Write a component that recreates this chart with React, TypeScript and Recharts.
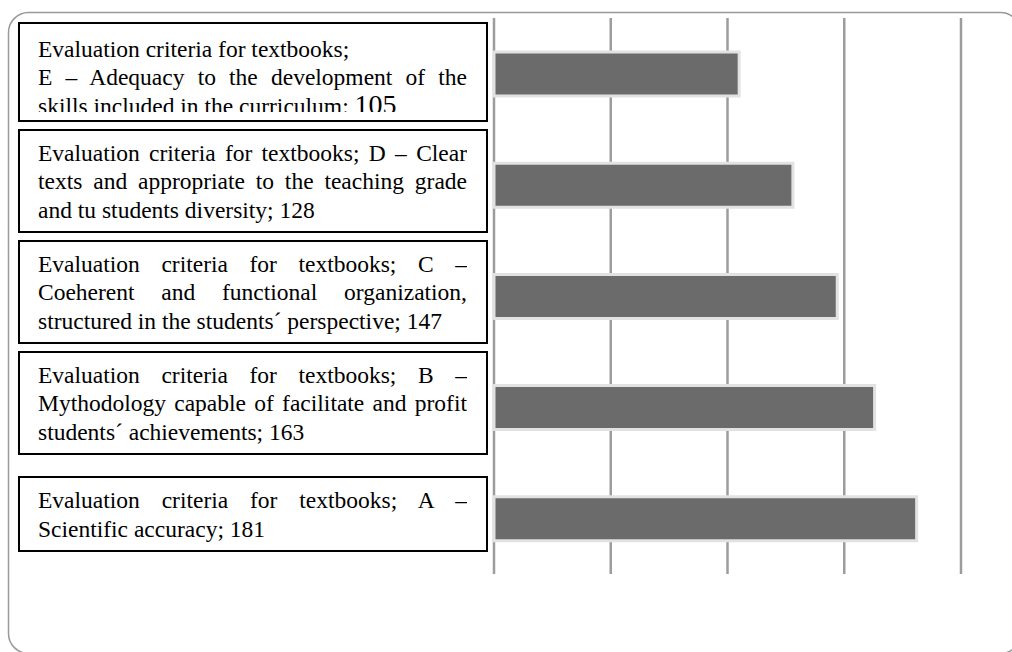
import { BarChart, Bar, XAxis, YAxis, CartesianGrid } from 'recharts';

// Criteria A..E, drawn bottom (A) to top (E)
const criteria = ['A', 'B', 'C', 'D', 'E'];
const descriptions = [
  'Scientific accuracy;',
  'Mythodology capable of facilitate and profit students\u00b4 achievements;',
  'Coeherent and functional organization, structured in the students\u00b4 perspective;',
  'Clear texts and appropriate to the teaching grade and tu students diversity;',
  'Adequacy to the development of the skills included in the curriculum:',
];
const counts = [181, 163, 147, 128, 105];
const xTicks = [0, 50, 100, 150, 200];

const prefix = 'Evaluation criteria for textbooks;';

const data = criteria.map((c, i) => ({ name: c, desc: descriptions[i], value: counts[i] }));

const W = 1012;
const H = 652;
const serif = '"Liberation Serif", "Times New Roman", serif';

const LabelBox = ({ y, payload }: any) => {
  const i = criteria.indexOf(payload.value);
  const d = data[i];
  // the E box is cut off at the bottom in the original
  const clipped = d.name === 'E';
  const fo = 140;
  return (
    <foreignObject x={18} y={y - fo / 2 - (clipped ? 2 : 4)} width={470} height={fo}>
      <div style={{ height: fo, display: 'flex', alignItems: 'center' }}>
        <div
          style={{
            boxSizing: 'border-box',
            width: 470,
            border: '2px solid #000',
            padding: clipped ? '11px 19px 8px 18px' : '8px 19px 7px 18px',
            background: '#fff',
          }}
        >
          <div
            style={{
              height: clipped ? 77 : undefined,
              overflow: 'hidden',
              textAlign: 'justify',
              fontFamily: serif,
              fontSize: 23.5,
              lineHeight: '28.5px',
              color: '#000',
            }}
          >
            {prefix}
            {clipped ? <br /> : ' '}
            {d.name} {'\u2013'} {d.desc}{' '}
            <span style={{ fontSize: clipped ? 28 : 23.5, lineHeight: '20px' }}>{d.value}</span>
          </div>
        </div>
      </div>
    </foreignObject>
  );
};

export default function App() {
  return (
    <div style={{ position: 'absolute', left: 0, top: 0, width: W, height: H, background: '#fff' }}>
      {/* rounded outer frame */}
      <svg width={W} height={H} style={{ position: 'absolute', left: 0, top: 0 }}>
        <rect x={8.5} y={12.5} width={1012} height={641} rx={20} ry={20} fill="none" stroke="#9a9a9a" strokeWidth={1.5} />
      </svg>
      <div style={{ position: 'absolute', left: 0, top: 0 }}>
        <BarChart
          width={W}
          height={H}
          data={data}
          layout="vertical"
          margin={{ top: 18, right: 51, bottom: 78, left: 0 }}
        >
          <CartesianGrid horizontal={false} vertical={true} stroke="#9c9c9c" strokeWidth={2.5} />
          <XAxis type="number" domain={[0, 200]} ticks={xTicks} hide />
          <YAxis
            type="category"
            dataKey="name"
            reversed
            width={494}
            axisLine={false}
            tickLine={false}
            interval={0}
            tick={<LabelBox />}
          />
          <Bar
            dataKey="value"
            fill="#6b6b6b"
            stroke="#e2e2e2"
            strokeWidth={3}
            barSize={44}
            isAnimationActive={false}
          />
        </BarChart>
      </div>
    </div>
  );
}
